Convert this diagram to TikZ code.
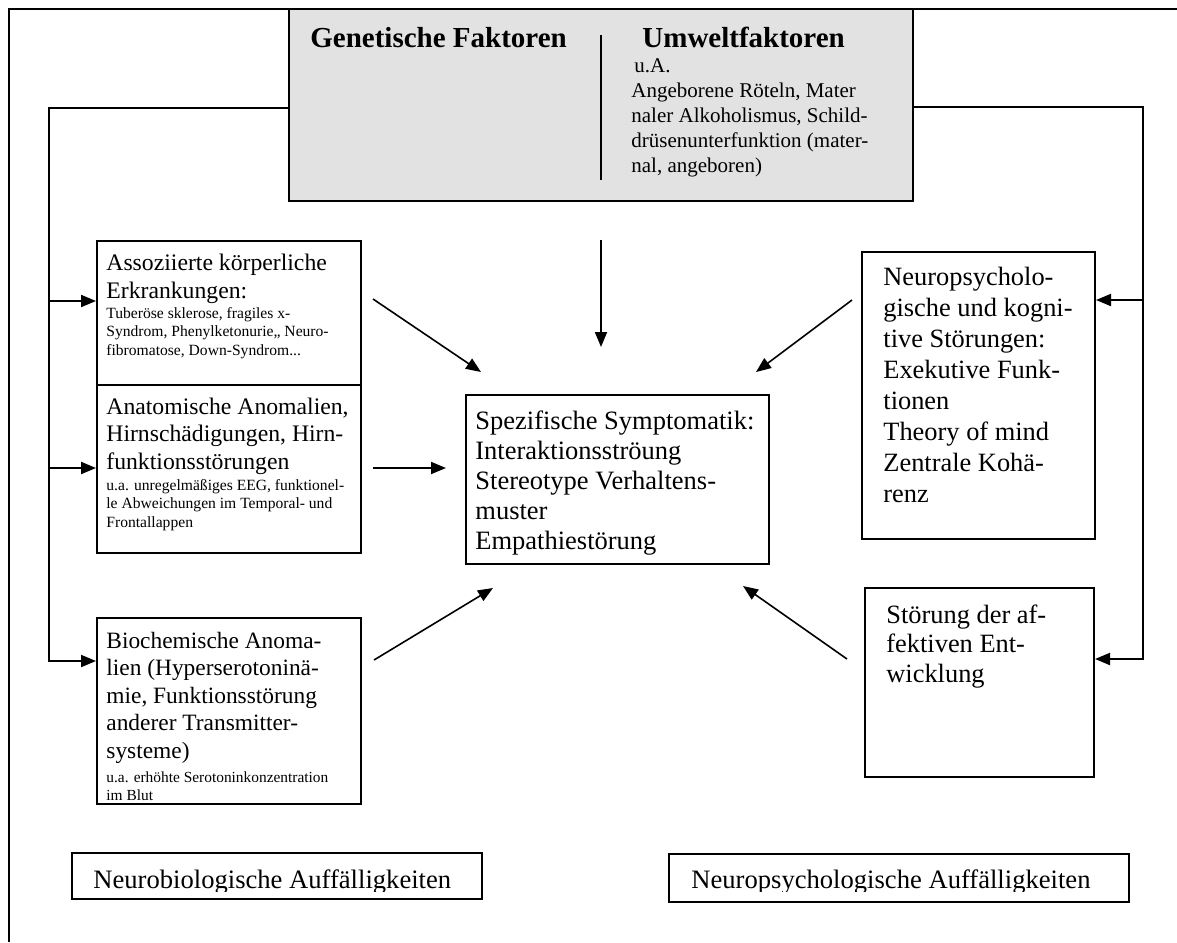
\documentclass[tikz,border=0pt]{standalone}
\usepackage{fontspec}
\setmainfont{Liberation Serif}
\usetikzlibrary{arrows.meta,fit}
\definecolor{boxgray}{RGB}{226,226,226}
\newcommand{\fsz}[2]{\fontsize{#1pt}{#2pt}\selectfont}
\begin{document}
\begin{tikzpicture}[x=0.5pt,y=-0.5pt,
  box/.style={draw, line width=1pt, inner sep=0pt},
  txt/.style={anchor=base west, inner sep=0pt},
  carr/.style={line width=1pt, -{Triangle[length=7.5pt,width=6pt]}},
  darr/.style={line width=0.8pt, -{Triangle[length=7.5pt,width=6pt]}},
]
\useasboundingbox (0,0) rectangle (1177,942);

% outer frame (clipped at right and bottom)
\draw[line width=1.2pt] (1177,9) -- (9,9) -- (9,942);

% top grey box
\node[box, fill=boxgray, fit={(289,9) (913,201)}] (gb) {};
\node[txt] (gtitle) at (310,47) {\fsz{14.5}{17}\bfseries Genetische Faktoren};
\node[txt] (utitle) at (642,47) {\fsz{14.5}{17}\bfseries Umweltfaktoren};
\draw[line width=1pt] (601,35) -- (601,180);
\node[txt] (ubody) at (631,72) {\parbox[t]{150pt}{\raggedright\fsz{10.5}{12.5}\hspace*{1.5pt}u.A.\\Angeborene Röteln, Mater\\naler Alkoholismus, Schild-\\drüsenunterfunktion (mater-\\nal, angeboren)}};

% left boxes
\node[box, fit={(97,241) (361,385)}] (a1) {};
\node[txt] (a1t) at (106,270) {\parbox[t]{130pt}{\raggedright\fsz{11.85}{14}Assoziierte körperliche\\Erkrankungen:}};
\node[txt] (a1s) at (106,318) {\parbox[t]{130pt}{\raggedright\fsz{7.8}{9.25}Tuberöse sklerose, fragiles x-\\Syndrom, Phenylketonurie,, Neuro-\\fibromatose, Down-Syndrom...}};

\node[box, fit={(97,385) (361,553)}] (a2) {};
\node[txt] (a2t) at (106,414) {\parbox[t]{130pt}{\raggedright\fsz{11.85}{13.75}Anatomische Anomalien,\\Hirnschädigungen, Hirn-\\funktionsstörungen}};
\node[txt] (a2s) at (106,490) {\parbox[t]{130pt}{\raggedright\fsz{7.8}{9.25}u.a. unregelmäßiges EEG, funktionel-\\le Abweichungen im Temporal- und\\Frontallappen}};

\node[box, fit={(97,618) (361,804)}] (a3) {};
\node[txt] (a3t) at (106,648) {\parbox[t]{130pt}{\raggedright\fsz{11.7}{13.75}Biochemische Anoma-\\lien (Hyperserotoninä-\\mie, Funktionsstörung\\anderer Transmitter-\\systeme)}};
\node[txt] (a3s) at (106,782) {\parbox[t]{130pt}{\raggedright\fsz{7.7}{9}u.a. erhöhte Serotoninkonzentration\\im Blut}};

% central box
\node[box, fit={(466,395) (769,564)}] (c) {};
\node[txt] (ct) at (475,429) {\parbox[t]{150pt}{\raggedright\fsz{13.25}{15.1}Spezifische Symptomatik:\\Interaktionsströung\\Stereotype Verhaltens-\\muster\\Empathiestörung}};

% right boxes
\node[box, fit={(862,252) (1095,539)}] (n1) {};
\node[txt] (n1t) at (883,285) {\parbox[t]{110pt}{\raggedright\fsz{13.2}{15.5}Neuropsycholo-\\gische und kogni-\\tive Störungen:\\Exekutive Funk-\\tionen\\Theory of mind\\Zentrale Kohä-\\renz}};

\node[box, fit={(865,588) (1094,777)}] (n2) {};
\node[txt] (n2t) at (886,623) {\parbox[t]{110pt}{\raggedright\fsz{13.2}{14.75}Störung der af-\\fektiven Ent-\\wicklung}};

% bottom labels (text clipped just below the baseline, as printed)
\node[box, fit={(72,853) (482,899)}] (b1) {};
\begin{scope}
  \clip (72,853) rectangle (482,891);
  \node[txt] (b1t) at (93,888) {\fsz{13.3}{15}Neurobiologische Auffälligkeiten};
\end{scope}
\node[box, fit={(669,854) (1129,902)}] (b2) {};
\begin{scope}
  \clip (669,854) rectangle (1129,891);
  \node[txt] (b2t) at (691,888) {\fsz{13.3}{15}Neuropsychologische Auffälligkeiten};
\end{scope}

% left connector
\coordinate (lc) at (49,108);
\coordinate (la1) at (49,301);
\coordinate (la2) at (49,468);
\coordinate (la3) at (49,661);
\draw[carr] (lc -| gb.west) -- (lc) -- (la3) -- (la3 -| a3.west);
\draw[carr] (la1) -- (la1 -| a1.west);
\draw[carr] (la2) -- (la2 -| a2.west);

% right connector
\coordinate (rc) at (1143,107);
\coordinate (rn1) at (1143,300);
\coordinate (rn2) at (1143,659);
\draw[carr] (rc -| gb.east) -- (rc) -- (rn2) -- (rn2 -| n2.east);
\draw[carr] (rn1) -- (rn1 -| n1.east);

% arrows toward the central box
\coordinate (d1s) at (373,299); \coordinate (d1e) at (481,372);
\coordinate (vs) at (601,240);  \coordinate (ve) at (601,347);
\coordinate (d2s) at (852,300); \coordinate (d2e) at (756,372);
\coordinate (hs) at (373,468);  \coordinate (he) at (446,468);
\coordinate (d3s) at (374,660); \coordinate (d3e) at (493,588);
\coordinate (d4s) at (847,659); \coordinate (d4e) at (743,586);
\draw[darr] (d1s) -- (d1e);
\draw[darr, line width=0.9pt] (vs) -- (ve);
\draw[darr] (d2s) -- (d2e);
\draw[darr, line width=0.9pt] (hs) -- (he);
\draw[darr] (d3s) -- (d3e);
\draw[darr] (d4s) -- (d4e);
\end{tikzpicture}
\end{document}
